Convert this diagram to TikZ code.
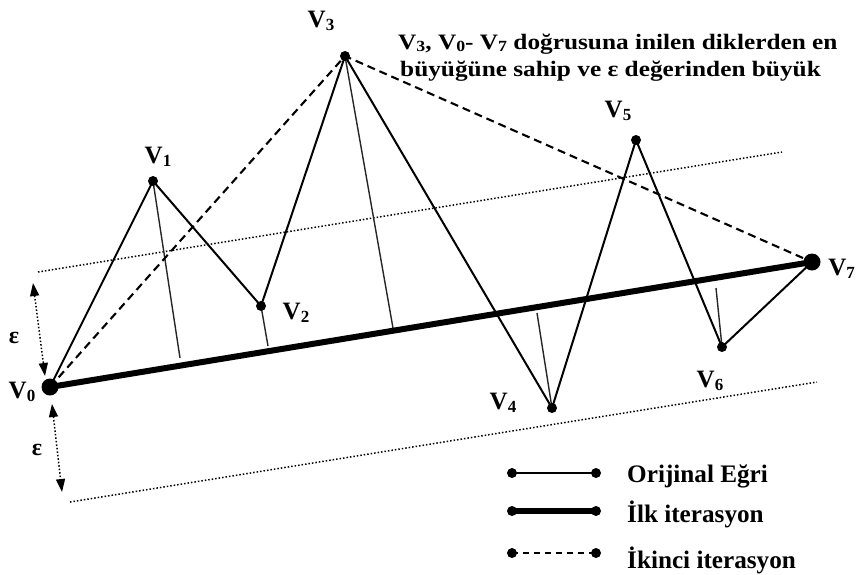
\documentclass[tikz,border=0pt]{standalone}
\usepackage{fontspec}
\setmainfont{Liberation Serif}
\usetikzlibrary{arrows.meta}
\newcommand{\Vsub}[1]{V\raisebox{-0.3ex}{\fontsize{17}{17}\selectfont #1}}
\newcommand{\Tsub}[1]{V\raisebox{-0.25ex}{\fontsize{15.5}{15.5}\selectfont #1}}
\begin{document}
\begin{tikzpicture}[x=1pt,y=-1pt,
  curve/.style={line width=2pt},
  perp/.style={line width=1.4pt, black!85},
  iter1/.style={line width=6pt},
  iter2/.style={line width=2.1pt, dash pattern=on 8pt off 5pt},
  band/.style={line width=1.5pt, dotted},
  epsarrow/.style={line width=1.5pt, dotted, {Triangle[length=13pt,width=9pt]}-{Triangle[length=13pt,width=9pt]}},
  smalldot/.style={circle, fill=black, inner sep=0pt, minimum size=10pt},
  bigdot/.style={circle, fill=black, inner sep=0pt, minimum size=17pt},
  vlabel/.style={font=\fontsize{25}{25}\selectfont\bfseries, inner sep=0pt},
  epslabel/.style={font=\fontsize{24}{24}\selectfont\bfseries, inner sep=0pt},
  legtext/.style={font=\fontsize{25.2}{25.2}\selectfont\bfseries, inner sep=0pt, anchor=base west},
  titletext/.style={font=\fontsize{22}{22}\selectfont\bfseries, inner sep=0pt, anchor=base west}
]
\useasboundingbox (0,0) rectangle (856,574);
\clip (0,0) rectangle (856,574);

% vertices
\coordinate (V0) at (50,387);
\coordinate (V1) at (153,181);
\coordinate (V2) at (261,306);
\coordinate (V3) at (345,56);
\coordinate (V4) at (552,408);
\coordinate (V5) at (636,140);
\coordinate (V6) at (722,347);
\coordinate (V7) at (812,262);

% feet of perpendiculars
\coordinate (F1) at (180,358);
\coordinate (F2) at (268,346);
\coordinate (F3) at (393,328);
\coordinate (F4) at (537,313);
\coordinate (F6) at (716,288);

% epsilon band
\coordinate (U1) at (38,272);
\coordinate (U2) at (782,152);
\coordinate (L1) at (70,502);
\coordinate (L2) at (817,382);
\draw[band] (U1) -- (U2);
\draw[band] (L1) -- (L2);

\coordinate (E1a) at (33,283);
\coordinate (E1b) at (45,376);
\coordinate (E2a) at (52,404);
\coordinate (E2b) at (62,492);
\draw[epsarrow] (E1a) -- (E1b);
\draw[epsarrow] (E2a) -- (E2b);
\node[epslabel] (eps1) at (14,338) {ε};
\node[epslabel] (eps2) at (37,450) {ε};

% original curve
\draw[curve] (V0) -- (V1) -- (V2) -- (V3) -- (V4) -- (V5) -- (V6) -- (V7);

% perpendiculars
\draw[perp] (V1) -- (F1);
\draw[perp] (V2) -- (F2);
\draw[perp] (V3) -- (F3);
\draw[perp] (V4) -- (F4);
\draw[perp] (V6) -- (F6);

% second iteration
\draw[iter2] (V0) -- (V3) -- (V7);

% first iteration
\draw[iter1] (V0) -- (V7);

% dots
\node[bigdot] (d0) at (V0) {};
\node[bigdot] (d7) at (V7) {};
\foreach \v in {V1,V2,V3,V4,V5,V6}{\node[smalldot] (d\v) at (\v) {};}

% labels
\node[vlabel] (l0) at (22,392) {\Vsub{0}};
\node[vlabel] (l1) at (158,157) {\Vsub{1}};
\node[vlabel] (l2) at (296,313) {\Vsub{2}};
\node[vlabel] (l3) at (321,21) {\Vsub{3}};
\node[vlabel] (l4) at (503,403) {\Vsub{4}};
\node[vlabel] (l5) at (618,111) {\Vsub{5}};
\node[vlabel] (l6) at (710,381) {\Vsub{6}};
\node[vlabel, anchor=east] (l7) at (855,269) {\Vsub{7}};

% title
\node[titletext] (t1) at (398,49) {\scalebox{1.15}[1]{\Tsub{3}, \Tsub{0}- \Tsub{7} doğrusuna inilen diklerden en}};
\node[titletext] (t2) at (400,76) {\scalebox{1.15}[1]{büyüğüne sahip ve ε değerinden büyük}};

% legend
\coordinate (a1) at (512,473); \coordinate (b1) at (596,473);
\coordinate (a2) at (512,511); \coordinate (b2) at (596,511);
\coordinate (a3) at (512,553); \coordinate (b3) at (596,553);
\draw[line width=1.7pt] (a1) -- (b1);
\draw[iter1] (a2) -- (b2);
\draw[line width=1.7pt, dash pattern=on 6pt off 5pt] (a3) -- (b3);
\foreach \p in {a1,b1,a2,b2,a3,b3}{\node[smalldot] (n\p) at (\p) {};}
\node[legtext] (g1) at (627,482) {Orijinal Eğri};
\node[legtext] (g2) at (627,522) {İlk iterasyon};
\node[legtext] (g3) at (627,568) {İkinci iterasyon};
\end{tikzpicture}
\end{document}
